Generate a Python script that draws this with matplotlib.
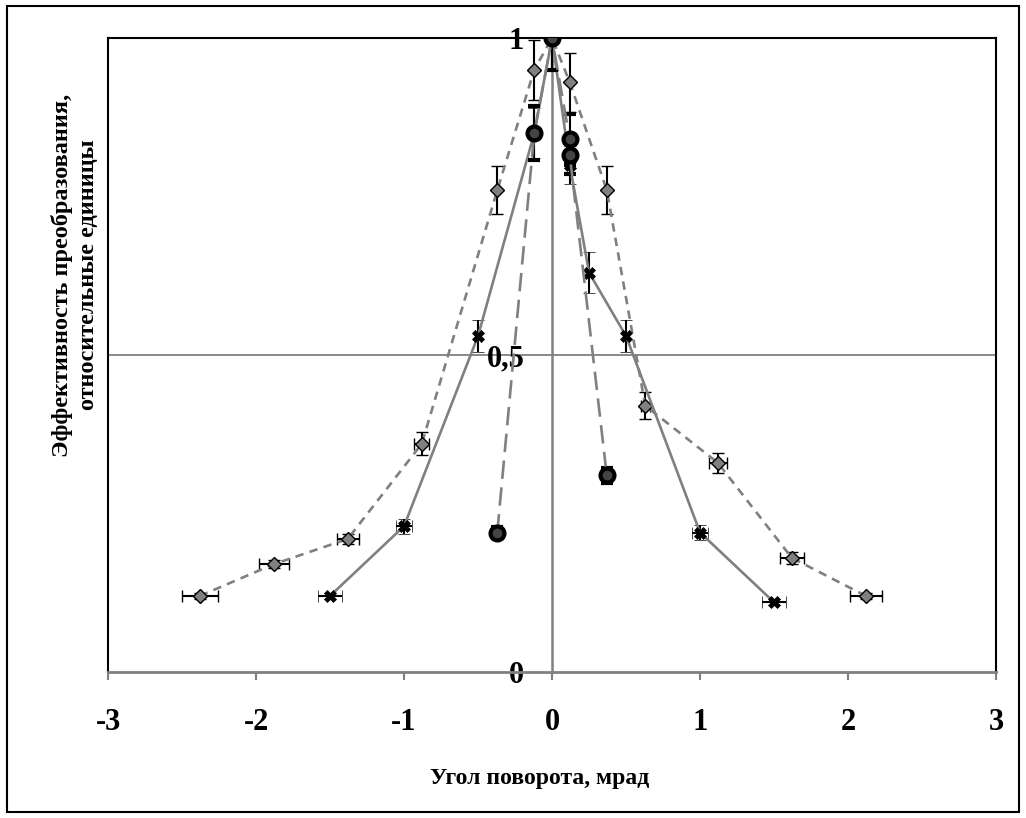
import matplotlib
matplotlib.use("Agg")
import matplotlib.pyplot as plt
from matplotlib.patches import Rectangle

plt.rcParams['font.family'] = ['Liberation Serif', 'DejaVu Serif']
plt.rcParams['font.weight'] = 'bold'

# Diamond series (short dashes)
dia_x = [-2.38, -1.88, -1.38, -0.88, -0.37, -0.12, 0.0, 0.12, 0.37, 0.63, 1.12, 1.62, 2.12]
dia_y = [0.12, 0.17, 0.21, 0.36, 0.76, 0.95, 1.0, 0.93, 0.76, 0.42, 0.33, 0.18, 0.12]
dia_xerr = [0.12, 0.10, 0.075, 0.05, 0.0, 0.0, 0.0, 0.0, 0.0, 0.03, 0.06, 0.083, 0.108]
dia_yerr = [0.005, 0.006, 0.008, 0.018, 0.038, 0.047, 0.05, 0.047, 0.038, 0.021, 0.016, 0.009, 0.005]

# Cross series (solid)
crs_x = [-1.5, -1.0, -0.5, -0.12, 0.0, 0.12, 0.25, 0.5, 1.0, 1.5]
crs_y = [0.12, 0.23, 0.53, 0.85, 1.0, 0.80, 0.63, 0.53, 0.22, 0.11]
crs_xerr = [0.078, 0.054, 0.02, 0.0, 0.0, 0.0, 0.0, 0.02, 0.053, 0.079]
crs_yerr = [0.005, 0.012, 0.026, 0.04, 0.05, 0.03, 0.032, 0.026, 0.012, 0.005]

# Circle series (long dashes)
cir_x = [-0.37, -0.12, 0.0, 0.12, 0.12, 0.37]
cir_y = [0.22, 0.85, 1.0, 0.84, 0.815, 0.31]
cir_yerr = [0.008, 0.043, 0.05, 0.04, 0.03, 0.012]

x_ticks = [-3, -2, -1, 0, 1, 2, 3]
y_ticks = [0, 0.5, 1]
y_tick_labels = ['0', '0,5', '1']

fig = plt.figure(figsize=(10.26, 8.18), dpi=100)
ax = fig.add_axes([0.1053, 0.1785, 0.8655, 0.775])

gray = '#808080'
lw = 1.9
err_kw = dict(ecolor='black', elinewidth=1.5, capsize=4, capthick=1.5)

ax.errorbar(dia_x, dia_y, xerr=dia_xerr, yerr=dia_yerr, color=gray, lw=lw,
            dashes=(3.2, 2.4), marker='D', markersize=7, markerfacecolor=gray,
            markeredgecolor='black', markeredgewidth=1, zorder=3, **err_kw)
ax.errorbar(crs_x, crs_y, xerr=crs_xerr, yerr=crs_yerr, color=gray, lw=lw,
            marker='X', markersize=9, markerfacecolor='black',
            markeredgecolor='black', markeredgewidth=0.5, zorder=4, **err_kw)
ax.errorbar(cir_x, cir_y, yerr=cir_yerr, color=gray, lw=lw,
            dashes=(7, 3.2), marker='o', markersize=10, markerfacecolor='#444444',
            markeredgecolor='black', markeredgewidth=3, zorder=5, **err_kw)

ax.set_xlim(-3, 3)
ax.set_ylim(0, 1)

# gridline at 0.5 and vertical axis at 0
ax.axhline(0.5, color=gray, lw=1.3, zorder=1)
ax.spines['left'].set_position(('data', 0))
ax.spines['left'].set_color(gray)
ax.spines['left'].set_linewidth(1.8)
ax.spines['left'].set_zorder(1)
ax.plot([0, 0], [0, 1], transform=ax.transAxes, color='black', lw=1.5, clip_on=False)
for s in ['top', 'right']:
    ax.spines[s].set_color('black')
    ax.spines[s].set_linewidth(1.5)
ax.spines['bottom'].set_color(gray)
ax.spines['bottom'].set_linewidth(2)

ax.set_xticks(x_ticks)
ax.set_xticklabels([str(t) for t in x_ticks])
ax.set_yticks(y_ticks)
ax.set_yticklabels(y_tick_labels)
ax.tick_params(axis='x', direction='out', length=6, width=1.5, color=gray,
               labelsize=22, pad=20)
ax.tick_params(axis='y', length=0, labelsize=22, pad=20)
for lab in ax.get_xticklabels() + ax.get_yticklabels():
    lab.set_fontweight('bold')

ax.set_xlabel('Угол поворота, мрад', fontsize=17, fontweight='bold')
ax.xaxis.set_label_coords(0.486, -0.152)
ax.set_ylabel('Эффективность преобразования,\nотносительные единицы',
              fontsize=17.5, fontweight='bold', linespacing=1.35)
ax.yaxis.set_label_coords(-0.01, 0.626)

# outer chart border
fig.patches.append(Rectangle((0.007, 0.007), 0.986, 0.986, transform=fig.transFigure,
                             fill=False, edgecolor='black', lw=1.5))

fig.savefig('out.png', dpi=100)
